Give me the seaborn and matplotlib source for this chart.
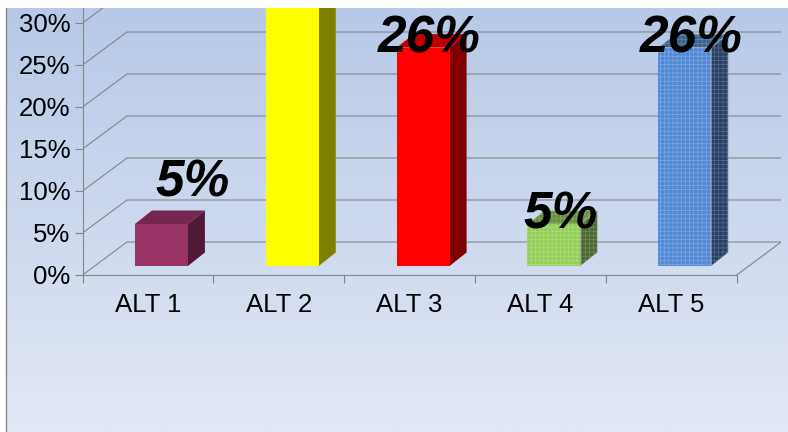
import numpy as np
import pandas as pd
import matplotlib
matplotlib.use('Agg')
import matplotlib.pyplot as plt
import seaborn as sns
from matplotlib.patches import Polygon

# chart data
categories = ['ALT 1', 'ALT 2', 'ALT 3', 'ALT 4', 'ALT 5']
values = [5, 38, 26, 5, 26]
value_labels = ['5%', '38%', '26%', '5%', '26%']
y_ticks = [0, 5, 10, 15, 20, 25, 30]

# colours per bar: front, top, side
front_colors = ['#993366', '#FFFF00', '#FF0000', '#93CF55', '#5289D4']
top_colors = ['#74264F', '#CCCC00', '#C00000', '#658F3C', '#3A6090']
side_colors = ['#4F1A36', '#808000', '#800000', '#4A6830', '#273F66']
textured = [False, False, False, True, True]

# layout in pixels
W, H = 788, 432
TOP, LEFT_EDGE = 8, 6
X0, X1, Y0 = 82.5, 736.7, 275
PX_PER_CAT = (X1 - X0) / 5
PX_PER_PCT = 8.4
WALL_DX, WALL_DY = 44.5, 33
BAR_DX, BAR_DY = 17, 13.5
BAR_SHIFT_X, BAR_SHIFT_Y = 13.5, 9
label_shift_x = [31, 6, 6, 7, 6]
label_shift_y = [27, -5, -5, -5, -5]
GRID = '#868686'


def axes_box(left, right, bottom_y, top_y):
    return [left / W, 1 - bottom_y / H, (right - left) / W, (bottom_y - top_y) / H]


sns.set_theme(style='white')
plt.rcParams['font.family'] = ['Liberation Sans', 'DejaVu Sans']
plt.rcParams['hatch.linewidth'] = 0.5

fig = plt.figure(figsize=(W / 100, H / 100), dpi=100, facecolor='white')

# gradient background
ax_bg = fig.add_axes(axes_box(LEFT_EDGE, W, H, TOP), zorder=0)
gradient = np.linspace(0, 1, 256).reshape(-1, 1)
cmap = matplotlib.colors.LinearSegmentedColormap.from_list('bg', ['#B7C9E8', '#E2E8F5'])
ax_bg.imshow(gradient, aspect='auto', cmap=cmap)
ax_bg.set_xticks([])
ax_bg.set_yticks([])
for name, spine in ax_bg.spines.items():
    spine.set_visible(name == 'left')
    spine.set_color(GRID)
    spine.set_linewidth(1.0)

# walls, floor and axis
right_px = X1 + WALL_DX
ax = fig.add_axes(axes_box(X0, right_px, Y0, TOP), zorder=1)
ax.patch.set_alpha(0)
ax.set_xlim(-0.5, 4.5 + WALL_DX / PX_PER_CAT)
ax.set_ylim(0, (Y0 - TOP) / PX_PER_PCT)
wall_x = WALL_DX / PX_PER_CAT
wall_y = WALL_DY / PX_PER_PCT
for tick in y_ticks:
    ax.plot([-0.5, -0.5 + wall_x, 4.5 + wall_x], [tick, tick + wall_y, tick + wall_y],
            color=GRID, lw=0.8, solid_joinstyle='miter')
ax.plot([4.5, 4.5 + wall_x], [0, wall_y], color=GRID, lw=0.8)

sns.despine(ax=ax, top=True, right=True)
ax.spines['bottom'].set_bounds(-0.5, 4.5)
for side in ['left', 'bottom']:
    ax.spines[side].set_color(GRID)
    ax.spines[side].set_linewidth(0.8)
ax.set_yticks(y_ticks)
ax.set_yticklabels([f'{t}%' for t in y_ticks], fontsize=18.5, color='black')
ax.set_xticks(np.arange(-0.5, 5, 1))
ax.set_xticklabels([])
ax.set_xticks(range(len(categories)), labels=categories, minor=True, fontsize=18.5, color='black')
ax.tick_params(axis='y', left=True, length=5.8, width=0.8, color=GRID, pad=3)
ax.tick_params(axis='x', which='major', bottom=True, length=5.8, width=0.8, color=GRID)
ax.tick_params(axis='x', which='minor', bottom=False, length=0, pad=13)

# bars sit on the floor, a little behind the front edge
bar_bottom = Y0 - BAR_SHIFT_Y
ax_bar = fig.add_axes(axes_box(X0 + BAR_SHIFT_X, X1 + BAR_SHIFT_X, bar_bottom, TOP), zorder=2)
df = pd.DataFrame({'alt': categories, 'value': values})
sns.barplot(data=df, x='alt', y='value', hue='alt', palette=front_colors, legend=False,
            width=0.405, saturation=1, linewidth=0, ax=ax_bar, zorder=3)
ax_bar.set_xlim(-0.5, 4.5)
ax_bar.set_ylim(0, (bar_bottom - TOP) / PX_PER_PCT)
ax_bar.patch.set_alpha(0)
ax_bar.axis('off')

dx = BAR_DX / PX_PER_CAT
dy = BAR_DY / PX_PER_PCT
bars = sorted(ax_bar.patches, key=lambda p: p.get_x())
for i, bar in enumerate(bars):
    x_l = bar.get_x()
    x_r = x_l + bar.get_width()
    v = values[i]
    top = Polygon([(x_l, v), (x_r, v), (x_r + dx, v + dy), (x_l + dx, v + dy)],
                  facecolor=top_colors[i], edgecolor='none', zorder=2)
    side = Polygon([(x_r, 0), (x_r + dx, dy), (x_r + dx, v + dy), (x_r, v)],
                   facecolor=side_colors[i], edgecolor='none', zorder=2)
    ax_bar.add_patch(top)
    ax_bar.add_patch(side)
    if textured[i]:
        # woven fill on the last two bars
        bar.set_hatch('++++')
        bar.set_edgecolor('#FFFFFF40')
        top.set_hatch('++++')
        top.set_edgecolor('#FFFFFF38')
        side.set_hatch('++++')
        side.set_edgecolor('#FFFFFF38')
    ax_bar.annotate(value_labels[i], xy=(i, v),
                    xytext=(label_shift_x[i], label_shift_y[i]), textcoords='offset pixels',
                    ha='center', va='baseline', fontsize=37, fontweight='bold',
                    fontstyle='italic', color='black', zorder=5)

plt.savefig('out.png', dpi=100)
